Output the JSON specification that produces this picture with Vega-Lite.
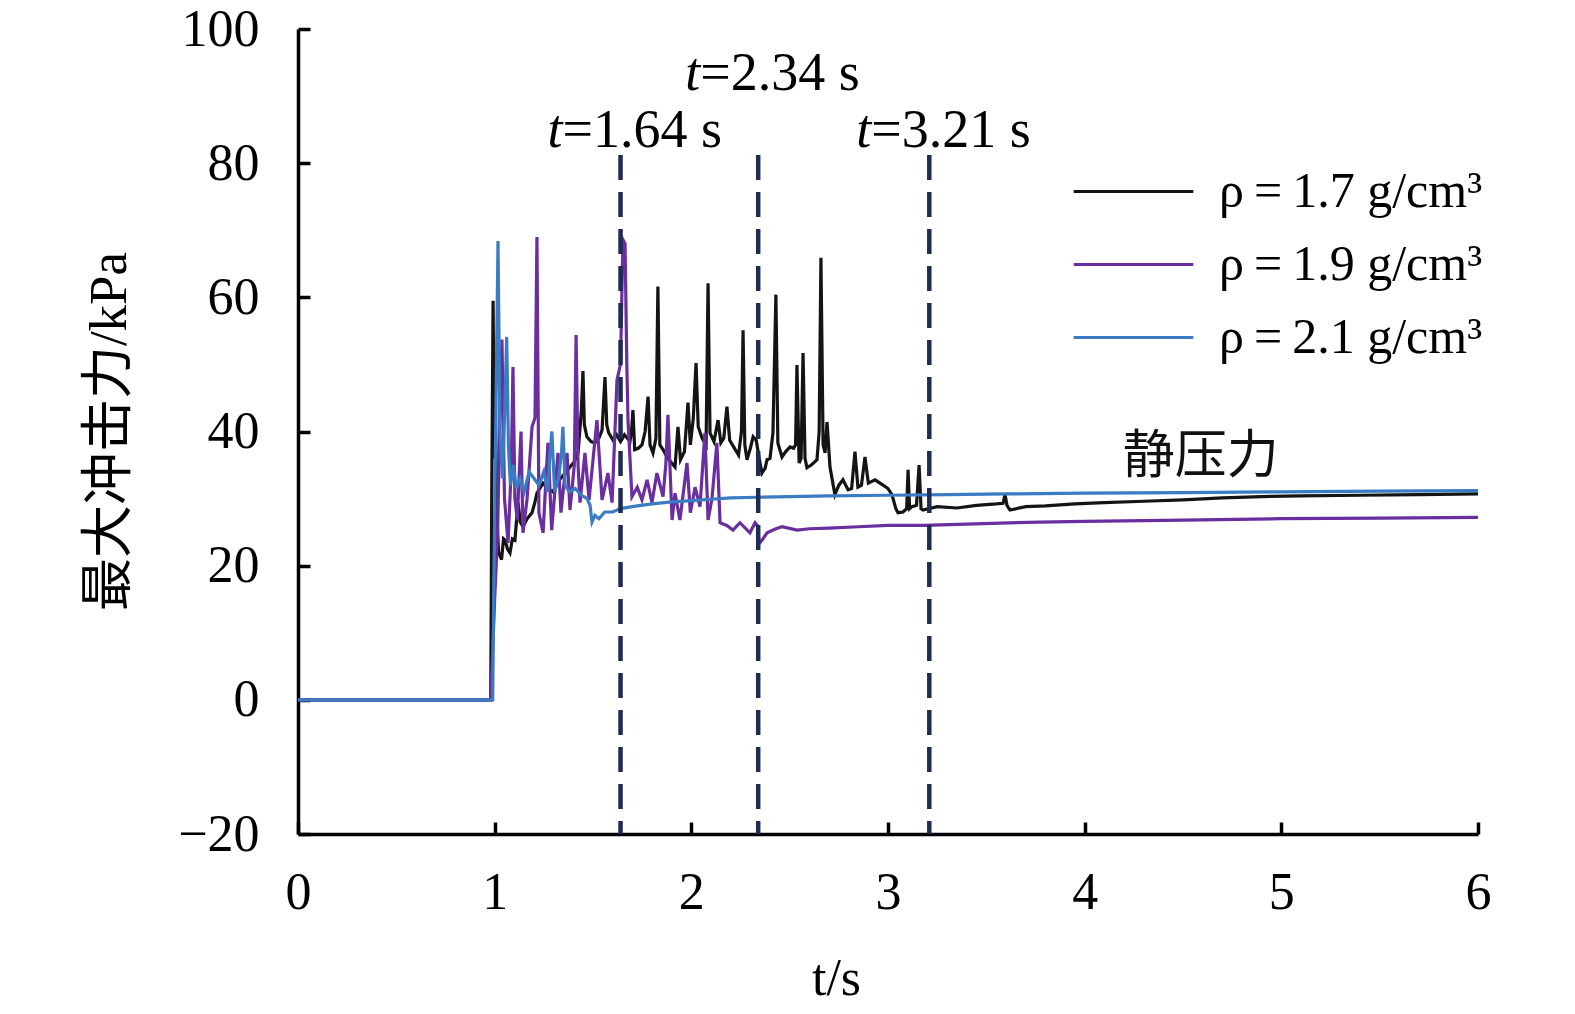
{
  "$schema": "https://vega.github.io/schema/vega-lite/v6.json",
  "width": 1180,
  "height": 805,
  "autosize": {"type": "none"},
  "padding": {"left": 298, "top": 29, "right": 97, "bottom": 180},
  "background": "white",
  "config": {"view": {"stroke": null}, "font": "Liberation Serif"},
  "datasets": {
    "series": [
      {"s":"1.7","t":0,"p":0},{"s":"1.7","t":0.98,"p":0},{"s":"1.7","t":0.985,"p":30},{"s":"1.7","t":0.992,"p":59.5},{"s":"1.7","t":0.998,"p":36},{"s":"1.7","t":1.004,"p":44},{"s":"1.7","t":1.01,"p":28},{"s":"1.7","t":1.02,"p":22},{"s":"1.7","t":1.035,"p":20.9},{"s":"1.7","t":1.045,"p":24},{"s":"1.7","t":1.053,"p":23.8},{"s":"1.7","t":1.065,"p":22.5},{"s":"1.7","t":1.078,"p":21.9},{"s":"1.7","t":1.09,"p":24},{"s":"1.7","t":1.103,"p":23.8},{"s":"1.7","t":1.112,"p":27},{"s":"1.7","t":1.119,"p":29.4},{"s":"1.7","t":1.13,"p":26.5},{"s":"1.7","t":1.144,"p":25.8},{"s":"1.7","t":1.165,"p":27},{"s":"1.7","t":1.19,"p":27.9},{"s":"1.7","t":1.205,"p":29.5},{"s":"1.7","t":1.215,"p":30.8},{"s":"1.7","t":1.23,"p":31.5},{"s":"1.7","t":1.246,"p":32.3},{"s":"1.7","t":1.27,"p":31.5},{"s":"1.7","t":1.297,"p":31},{"s":"1.7","t":1.32,"p":32.5},{"s":"1.7","t":1.35,"p":33.5},{"s":"1.7","t":1.383,"p":34.7},{"s":"1.7","t":1.405,"p":35.5},{"s":"1.7","t":1.424,"p":36.8},{"s":"1.7","t":1.44,"p":42.8},{"s":"1.7","t":1.449,"p":49},{"s":"1.7","t":1.456,"p":41},{"s":"1.7","t":1.469,"p":39.2},{"s":"1.7","t":1.49,"p":38.5},{"s":"1.7","t":1.51,"p":38.3},{"s":"1.7","t":1.53,"p":39},{"s":"1.7","t":1.546,"p":40.2},{"s":"1.7","t":1.561,"p":48.1},{"s":"1.7","t":1.57,"p":41},{"s":"1.7","t":1.58,"p":39.8},{"s":"1.7","t":1.602,"p":38.7},{"s":"1.7","t":1.62,"p":39.5},{"s":"1.7","t":1.64,"p":38.5},{"s":"1.7","t":1.66,"p":39.5},{"s":"1.7","t":1.688,"p":38.5},{"s":"1.7","t":1.696,"p":40},{"s":"1.7","t":1.703,"p":43.2},{"s":"1.7","t":1.712,"p":37.3},{"s":"1.7","t":1.73,"p":37.5},{"s":"1.7","t":1.749,"p":38},{"s":"1.7","t":1.765,"p":40},{"s":"1.7","t":1.78,"p":45.2},{"s":"1.7","t":1.79,"p":38},{"s":"1.7","t":1.805,"p":36.8},{"s":"1.7","t":1.82,"p":39},{"s":"1.7","t":1.83,"p":61.6},{"s":"1.7","t":1.84,"p":38},{"s":"1.7","t":1.856,"p":37.3},{"s":"1.7","t":1.88,"p":36},{"s":"1.7","t":1.917,"p":34.7},{"s":"1.7","t":1.932,"p":40.7},{"s":"1.7","t":1.945,"p":35.8},{"s":"1.7","t":1.965,"p":37},{"s":"1.7","t":1.983,"p":44.3},{"s":"1.7","t":1.995,"p":38},{"s":"1.7","t":2.01,"p":42},{"s":"1.7","t":2.024,"p":50.2},{"s":"1.7","t":2.035,"p":40.7},{"s":"1.7","t":2.055,"p":39},{"s":"1.7","t":2.075,"p":38},{"s":"1.7","t":2.085,"p":62.1},{"s":"1.7","t":2.095,"p":39.8},{"s":"1.7","t":2.115,"p":38.5},{"s":"1.7","t":2.136,"p":41.7},{"s":"1.7","t":2.15,"p":38.3},{"s":"1.7","t":2.165,"p":39},{"s":"1.7","t":2.181,"p":43.7},{"s":"1.7","t":2.195,"p":38.7},{"s":"1.7","t":2.215,"p":37.7},{"s":"1.7","t":2.24,"p":36.5},{"s":"1.7","t":2.255,"p":40},{"s":"1.7","t":2.263,"p":55.1},{"s":"1.7","t":2.272,"p":38},{"s":"1.7","t":2.283,"p":35.8},{"s":"1.7","t":2.3,"p":37.5},{"s":"1.7","t":2.314,"p":39.2},{"s":"1.7","t":2.33,"p":38.7},{"s":"1.7","t":2.345,"p":36},{"s":"1.7","t":2.359,"p":33.8},{"s":"1.7","t":2.375,"p":34.5},{"s":"1.7","t":2.385,"p":35.8},{"s":"1.7","t":2.4,"p":36},{"s":"1.7","t":2.415,"p":39.8},{"s":"1.7","t":2.43,"p":60.4},{"s":"1.7","t":2.44,"p":38.3},{"s":"1.7","t":2.461,"p":36.2},{"s":"1.7","t":2.48,"p":37},{"s":"1.7","t":2.502,"p":37.7},{"s":"1.7","t":2.52,"p":37.5},{"s":"1.7","t":2.53,"p":38},{"s":"1.7","t":2.537,"p":49.9},{"s":"1.7","t":2.548,"p":35.3},{"s":"1.7","t":2.558,"p":36},{"s":"1.7","t":2.568,"p":51.7},{"s":"1.7","t":2.578,"p":36},{"s":"1.7","t":2.588,"p":34.6},{"s":"1.7","t":2.61,"p":35},{"s":"1.7","t":2.639,"p":35.8},{"s":"1.7","t":2.65,"p":40},{"s":"1.7","t":2.659,"p":65.9},{"s":"1.7","t":2.67,"p":38},{"s":"1.7","t":2.68,"p":36.8},{"s":"1.7","t":2.69,"p":41.4},{"s":"1.7","t":2.705,"p":34.7},{"s":"1.7","t":2.73,"p":30.6},{"s":"1.7","t":2.75,"p":32},{"s":"1.7","t":2.771,"p":32.8},{"s":"1.7","t":2.797,"p":31.3},{"s":"1.7","t":2.815,"p":31.5},{"s":"1.7","t":2.832,"p":37},{"s":"1.7","t":2.847,"p":31.7},{"s":"1.7","t":2.865,"p":32},{"s":"1.7","t":2.883,"p":36.2},{"s":"1.7","t":2.9,"p":32.3},{"s":"1.7","t":2.934,"p":32.8},{"s":"1.7","t":2.975,"p":32},{"s":"1.7","t":3.0,"p":31.5},{"s":"1.7","t":3.02,"p":30.6},{"s":"1.7","t":3.04,"p":28.5},{"s":"1.7","t":3.051,"p":27.9},{"s":"1.7","t":3.076,"p":28},{"s":"1.7","t":3.095,"p":28.5},{"s":"1.7","t":3.102,"p":34.3},{"s":"1.7","t":3.11,"p":28.5},{"s":"1.7","t":3.122,"p":28.8},{"s":"1.7","t":3.145,"p":29},{"s":"1.7","t":3.158,"p":35},{"s":"1.7","t":3.168,"p":28.5},{"s":"1.7","t":3.178,"p":28.3},{"s":"1.7","t":3.25,"p":28.8},{"s":"1.7","t":3.35,"p":28.6},{"s":"1.7","t":3.45,"p":29},{"s":"1.7","t":3.55,"p":29.2},{"s":"1.7","t":3.585,"p":29.3},{"s":"1.7","t":3.595,"p":30.6},{"s":"1.7","t":3.605,"p":29},{"s":"1.7","t":3.62,"p":28.3},{"s":"1.7","t":3.7,"p":28.8},{"s":"1.7","t":3.8,"p":28.9},{"s":"1.7","t":3.95,"p":29.2},{"s":"1.7","t":4.1,"p":29.4},{"s":"1.7","t":4.3,"p":29.6},{"s":"1.7","t":4.5,"p":29.8},{"s":"1.7","t":4.7,"p":30.1},{"s":"1.7","t":4.9,"p":30.3},{"s":"1.7","t":5.1,"p":30.4},{"s":"1.7","t":5.4,"p":30.5},{"s":"1.7","t":5.7,"p":30.6},{"s":"1.7","t":6.0,"p":30.7},
      {"s":"1.9","t":0,"p":0},{"s":"1.9","t":0.98,"p":0},{"s":"1.9","t":1.0,"p":15},{"s":"1.9","t":1.015,"p":25},{"s":"1.9","t":1.028,"p":45},{"s":"1.9","t":1.037,"p":53.7},{"s":"1.9","t":1.05,"p":30},{"s":"1.9","t":1.068,"p":23.4},{"s":"1.9","t":1.085,"p":35},{"s":"1.9","t":1.093,"p":49.6},{"s":"1.9","t":1.103,"p":30},{"s":"1.9","t":1.115,"p":26.8},{"s":"1.9","t":1.134,"p":40},{"s":"1.9","t":1.144,"p":24.9},{"s":"1.9","t":1.165,"p":30},{"s":"1.9","t":1.19,"p":40.7},{"s":"1.9","t":1.205,"p":42},{"s":"1.9","t":1.215,"p":69},{"s":"1.9","t":1.225,"p":27.9},{"s":"1.9","t":1.246,"p":24.9},{"s":"1.9","t":1.271,"p":38.3},{"s":"1.9","t":1.29,"p":25.3},{"s":"1.9","t":1.322,"p":36.8},{"s":"1.9","t":1.337,"p":27.9},{"s":"1.9","t":1.368,"p":36.8},{"s":"1.9","t":1.383,"p":28.3},{"s":"1.9","t":1.405,"p":35},{"s":"1.9","t":1.414,"p":54.4},{"s":"1.9","t":1.424,"p":35},{"s":"1.9","t":1.434,"p":29.4},{"s":"1.9","t":1.459,"p":36.8},{"s":"1.9","t":1.48,"p":29.8},{"s":"1.9","t":1.52,"p":41.7},{"s":"1.9","t":1.546,"p":29.8},{"s":"1.9","t":1.576,"p":33.8},{"s":"1.9","t":1.597,"p":29.4},{"s":"1.9","t":1.622,"p":47.7},{"s":"1.9","t":1.64,"p":50},{"s":"1.9","t":1.652,"p":68.6},{"s":"1.9","t":1.663,"p":68},{"s":"1.9","t":1.672,"p":50},{"s":"1.9","t":1.678,"p":41.7},{"s":"1.9","t":1.698,"p":30.3},{"s":"1.9","t":1.725,"p":31.7},{"s":"1.9","t":1.749,"p":29.8},{"s":"1.9","t":1.775,"p":32.8},{"s":"1.9","t":1.8,"p":29.4},{"s":"1.9","t":1.825,"p":33.8},{"s":"1.9","t":1.856,"p":30.3},{"s":"1.9","t":1.87,"p":35},{"s":"1.9","t":1.881,"p":42.5},{"s":"1.9","t":1.902,"p":26.8},{"s":"1.9","t":1.917,"p":30.8},{"s":"1.9","t":1.942,"p":26.8},{"s":"1.9","t":1.978,"p":35.3},{"s":"1.9","t":1.995,"p":27.9},{"s":"1.9","t":2.019,"p":31.7},{"s":"1.9","t":2.044,"p":28.8},{"s":"1.9","t":2.069,"p":39.8},{"s":"1.9","t":2.085,"p":26.8},{"s":"1.9","t":2.105,"p":30},{"s":"1.9","t":2.13,"p":38.3},{"s":"1.9","t":2.146,"p":26.4},{"s":"1.9","t":2.18,"p":26},{"s":"1.9","t":2.212,"p":25.3},{"s":"1.9","t":2.247,"p":26.4},{"s":"1.9","t":2.298,"p":24.9},{"s":"1.9","t":2.324,"p":26.4},{"s":"1.9","t":2.335,"p":26},{"s":"1.9","t":2.345,"p":23.3},{"s":"1.9","t":2.359,"p":23.8},{"s":"1.9","t":2.385,"p":24.9},{"s":"1.9","t":2.43,"p":25.5},{"s":"1.9","t":2.461,"p":25.8},{"s":"1.9","t":2.537,"p":25.3},{"s":"1.9","t":2.6,"p":25.5},{"s":"1.9","t":2.7,"p":25.6},{"s":"1.9","t":2.85,"p":25.8},{"s":"1.9","t":3.0,"p":26},{"s":"1.9","t":3.18,"p":26},{"s":"1.9","t":3.4,"p":26.2},{"s":"1.9","t":3.77,"p":26.5},{"s":"1.9","t":4.0,"p":26.6},{"s":"1.9","t":4.5,"p":26.8},{"s":"1.9","t":5.0,"p":27},{"s":"1.9","t":5.5,"p":27.1},{"s":"1.9","t":6.0,"p":27.2},
      {"s":"2.1","t":0,"p":0},{"s":"2.1","t":0.99,"p":0},{"s":"2.1","t":0.995,"p":15},{"s":"2.1","t":1.005,"p":40},{"s":"2.1","t":1.017,"p":68.4},{"s":"2.1","t":1.027,"p":40},{"s":"2.1","t":1.04,"p":33},{"s":"2.1","t":1.053,"p":45},{"s":"2.1","t":1.061,"p":54.1},{"s":"2.1","t":1.07,"p":38},{"s":"2.1","t":1.08,"p":32},{"s":"2.1","t":1.095,"p":35},{"s":"2.1","t":1.11,"p":31.5},{"s":"2.1","t":1.13,"p":33},{"s":"2.1","t":1.15,"p":31},{"s":"2.1","t":1.175,"p":34},{"s":"2.1","t":1.2,"p":33},{"s":"2.1","t":1.225,"p":32},{"s":"2.1","t":1.25,"p":34},{"s":"2.1","t":1.27,"p":31},{"s":"2.1","t":1.282,"p":37},{"s":"2.1","t":1.291,"p":40},{"s":"2.1","t":1.305,"p":31},{"s":"2.1","t":1.325,"p":33},{"s":"2.1","t":1.34,"p":37},{"s":"2.1","t":1.347,"p":40.7},{"s":"2.1","t":1.358,"p":32},{"s":"2.1","t":1.38,"p":31},{"s":"2.1","t":1.41,"p":31.5},{"s":"2.1","t":1.44,"p":30.5},{"s":"2.1","t":1.47,"p":30},{"s":"2.1","t":1.485,"p":29},{"s":"2.1","t":1.495,"p":26.5},{"s":"2.1","t":1.51,"p":27.5},{"s":"2.1","t":1.53,"p":27},{"s":"2.1","t":1.56,"p":28},{"s":"2.1","t":1.6,"p":28},{"s":"2.1","t":1.64,"p":28.5},{"s":"2.1","t":1.7,"p":28.8},{"s":"2.1","t":1.8,"p":29.2},{"s":"2.1","t":1.9,"p":29.5},{"s":"2.1","t":2.0,"p":29.7},{"s":"2.1","t":2.1,"p":29.9},{"s":"2.1","t":2.2,"p":30.1},{"s":"2.1","t":2.34,"p":30.2},{"s":"2.1","t":2.5,"p":30.3},{"s":"2.1","t":2.7,"p":30.4},{"s":"2.1","t":3.0,"p":30.5},{"s":"2.1","t":3.3,"p":30.6},{"s":"2.1","t":3.6,"p":30.7},{"s":"2.1","t":4.0,"p":30.8},{"s":"2.1","t":4.5,"p":30.9},{"s":"2.1","t":5.0,"p":31.0},{"s":"2.1","t":5.5,"p":31.1},{"s":"2.1","t":6.0,"p":31.2}
    ],
    "marks": [
      {"t": 1.64, "lab": "=1.64 s", "ly": 82.4},
      {"t": 2.34, "lab": "=2.34 s", "ly": 90.9},
      {"t": 3.21, "lab": "=3.21 s", "ly": 82.4}
    ]
  },
  "layer": [
    {
      "data": {"name": "series"},
      "mark": {"type": "line", "strokeWidth": 3.2, "clip": true},
      "encoding": {
        "x": {
          "field": "t", "type": "quantitative",
          "scale": {"domain": [0, 6], "nice": false, "zero": false},
          "axis": {
            "values": [0, 1, 2, 3, 4, 5, 6], "format": "d", "grid": false,
            "domainColor": "#000", "domainWidth": 3.5,
            "tickColor": "#000", "tickWidth": 3.5, "tickSize": -12,
            "labelFont": "Liberation Serif", "labelFontSize": 52, "labelColor": "#000",
            "labelPadding": 45, "labelFlush": false,
            "title": "t/s", "titleFont": "Liberation Serif", "titleFontSize": 52,
            "titleFontWeight": "normal", "titleColor": "#000",
            "titleX": 538, "titleY": 160, "titleBaseline": "alphabetic", "titleAlign": "center"
          }
        },
        "y": {
          "field": "p", "type": "quantitative",
          "scale": {"domain": [-20, 100], "nice": false, "zero": false},
          "axis": {
            "values": [-20, 0, 20, 40, 60, 80, 100], "grid": false,
            "domainColor": "#000", "domainWidth": 3.5,
            "tickColor": "#000", "tickWidth": 3.5, "tickSize": -12,
            "labelFont": "Liberation Serif", "labelFontSize": 52, "labelColor": "#000",
            "labelPadding": 51, "labelFlush": false,
            "title": "最大冲击力/kPa", "titleFont": "Liberation Serif, Noto Sans CJK SC", "titleFontSize": 53,
            "titleFontWeight": "normal", "titleColor": "#000",
            "titleX": -189, "titleY": 402, "titleAngle": 270, "titleBaseline": "middle", "titleAlign": "center"
          }
        },
        "color": {
          "field": "s", "type": "nominal",
          "scale": {"domain": ["1.7", "1.9", "2.1"], "range": ["#141414", "#6a2e9e", "#3b7bc3"]},
          "legend": {
            "orient": "none", "legendX": 788, "legendY": 115, "title": null, "padding": 0,
            "symbolType": "M-1.3,0H1.3", "symbolSize": 8464, "symbolStrokeWidth": 3,
            "labelFont": "Liberation Serif", "labelFontSize": 50, "labelColor": "#000",
            "labelOffset": 38, "rowPadding": 0, "labelLimit": 0,
            "labelExpr": "'ρ\u2009=\u2009' + datum.label + ' g/cm³'"
          }
        }
      }
    },
    {
      "data": {"name": "marks"},
      "layer": [
        {
          "mark": {"type": "rule", "strokeDash": [25, 12], "strokeWidth": 4.5, "color": "#1f2b52"},
          "encoding": {
            "x": {"field": "t", "type": "quantitative"},
            "y": {"datum": 81.2},
            "y2": {"datum": -20}
          }
        },
        {
          "mark": {"type": "text", "align": "right", "baseline": "alphabetic", "fontStyle": "italic", "font": "Liberation Serif", "fontSize": 54, "dx": -58, "color": "#000"},
          "encoding": {
            "x": {"field": "t", "type": "quantitative"},
            "y": {"field": "ly", "type": "quantitative"},
            "text": {"value": "t"}
          }
        },
        {
          "mark": {"type": "text", "align": "left", "baseline": "alphabetic", "font": "Liberation Serif", "fontSize": 54, "dx": -58, "color": "#000"},
          "encoding": {
            "x": {"field": "t", "type": "quantitative"},
            "y": {"field": "ly", "type": "quantitative"},
            "text": {"field": "lab"}
          }
        }
      ]
    },
    {
      "data": {"values": [{"lab": "静压力", "t": 4.59, "v": 36.2}]},
      "mark": {"type": "text", "align": "center", "baseline": "middle", "font": "Noto Sans CJK SC", "fontSize": 52, "color": "#111"},
      "encoding": {
        "x": {"field": "t", "type": "quantitative"},
        "y": {"field": "v", "type": "quantitative"},
        "text": {"field": "lab"}
      }
    }
  ]
}
